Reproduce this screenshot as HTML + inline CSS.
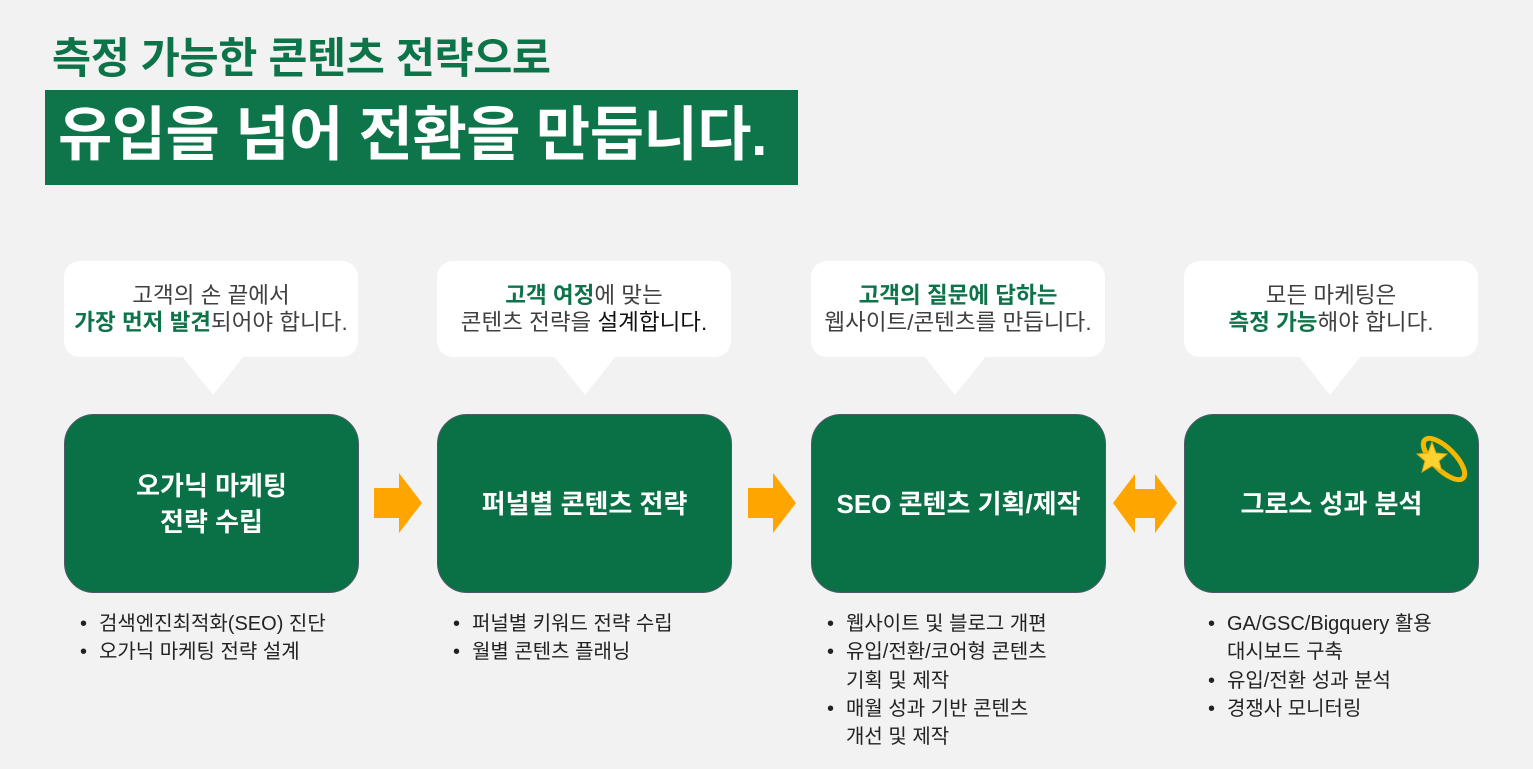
<!DOCTYPE html>
<html><head><meta charset="utf-8"><style>
*{margin:0;padding:0;box-sizing:border-box}
body{width:1533px;height:769px;background:#f2f2f2;font-family:"Liberation Sans","Noto Sans CJK KR",sans-serif;position:relative;overflow:hidden}
.abs{position:absolute}
.t1{left:52px;top:32px;font-size:42.5px;font-weight:700;color:#0d7348;line-height:56px;letter-spacing:-0.4px;white-space:nowrap}
.hb{left:45px;top:90px;width:753px;height:95px;background:#0e7449}
.t2{left:58px;top:94px;font-size:59px;font-weight:700;color:#fff;line-height:82px;letter-spacing:-0.5px;white-space:nowrap}
.bub{width:294px;height:96px;top:261px;background:#fff;border-radius:16px;text-align:center;font-size:22.5px;color:#404040;line-height:27px;padding-top:21px;white-space:nowrap}
.bub b{color:#0d7348}
.tail{width:0;height:0;top:356px;border-left:31px solid transparent;border-right:31px solid transparent;border-top:39px solid #fff}
.box{width:295px;height:179px;top:414px;background:#0a7146;border:1.5px solid #505a6a;border-radius:30px;display:flex;align-items:center;justify-content:center;text-align:center;color:#fff;font-size:26px;font-weight:700;line-height:36px;white-space:nowrap}
ul{position:absolute;top:610px;font-size:20px;color:#222;line-height:28.3px;list-style:none;white-space:nowrap}
li{padding-left:19px;position:relative}
li:before{content:"•";position:absolute;left:0}
</style></head><body>
<div class="abs t1">측정 가능한 콘텐츠 전략으로</div>
<div class="abs hb"></div>
<div class="abs t2">유입을 넘어 전환을 만듭니다.</div>

<div class="abs bub" style="left:64px">고객의 손 끝에서<br><b>가장 먼저 발견</b>되어야 합니다.</div>
<div class="abs tail" style="left:182px"></div>
<div class="abs bub" style="left:437px"><b>고객 여정</b>에 맞는<br>콘텐츠 전략을 <span style="color:#111">설계합니다.</span></div>
<div class="abs tail" style="left:554px"></div>
<div class="abs bub" style="left:811px"><b>고객의 질문에 답하는</b><br>웹사이트/콘텐츠를 만듭니다.</div>
<div class="abs tail" style="left:924px"></div>
<div class="abs bub" style="left:1184px">모든 마케팅은<br><b>측정 가능</b>해야 합니다.</div>
<div class="abs tail" style="left:1299px"></div>

<div class="abs box" style="left:64px">오가닉 마케팅<br>전략 수립</div>
<div class="abs box" style="left:437px">퍼널별 콘텐츠 전략</div>
<div class="abs box" style="left:811px">SEO 콘텐츠 기획/제작</div>
<div class="abs box" style="left:1184px">그로스 성과 분석</div>

<svg class="abs" style="left:0;top:0" width="1533" height="769">
<polygon points="374,488 399,488 399,473 422,503 399,533 399,518 374,518" fill="#ffa500"/>
<polygon points="748,488 773,488 773,473 796,503 773,533 773,518 748,518" fill="#ffa500"/>
<polygon points="1113,503 1135,474 1135,489 1155,489 1155,474 1177,503 1155,533 1155,518 1135,518 1135,533" fill="#ffa500"/>
<ellipse cx="1444" cy="459" rx="11" ry="27" transform="rotate(-45 1444 459)" fill="none" stroke="#f5b800" stroke-width="5"/>
<polygon points="1432,442 1436,453 1447,454 1439,461 1442,472 1432,466 1422,472 1425,461 1417,454 1428,453" fill="#fcd232" stroke="#e0a800" stroke-width="1"/>
</svg>

<ul style="left:80px"><li>검색엔진최적화(SEO) 진단</li><li>오가닉 마케팅 전략 설계</li></ul>
<ul style="left:453px"><li>퍼널별 키워드 전략 수립</li><li>월별 콘텐츠 플래닝</li></ul>
<ul style="left:827px"><li>웹사이트 및 블로그 개편</li><li>유입/전환/코어형 콘텐츠<br>기획 및 제작</li><li>매월 성과 기반 콘텐츠<br>개선 및 제작</li></ul>
<ul style="left:1208px"><li>GA/GSC/Bigquery 활용<br>대시보드 구축</li><li>유입/전환 성과 분석</li><li>경쟁사 모니터링</li></ul>
</body></html>
